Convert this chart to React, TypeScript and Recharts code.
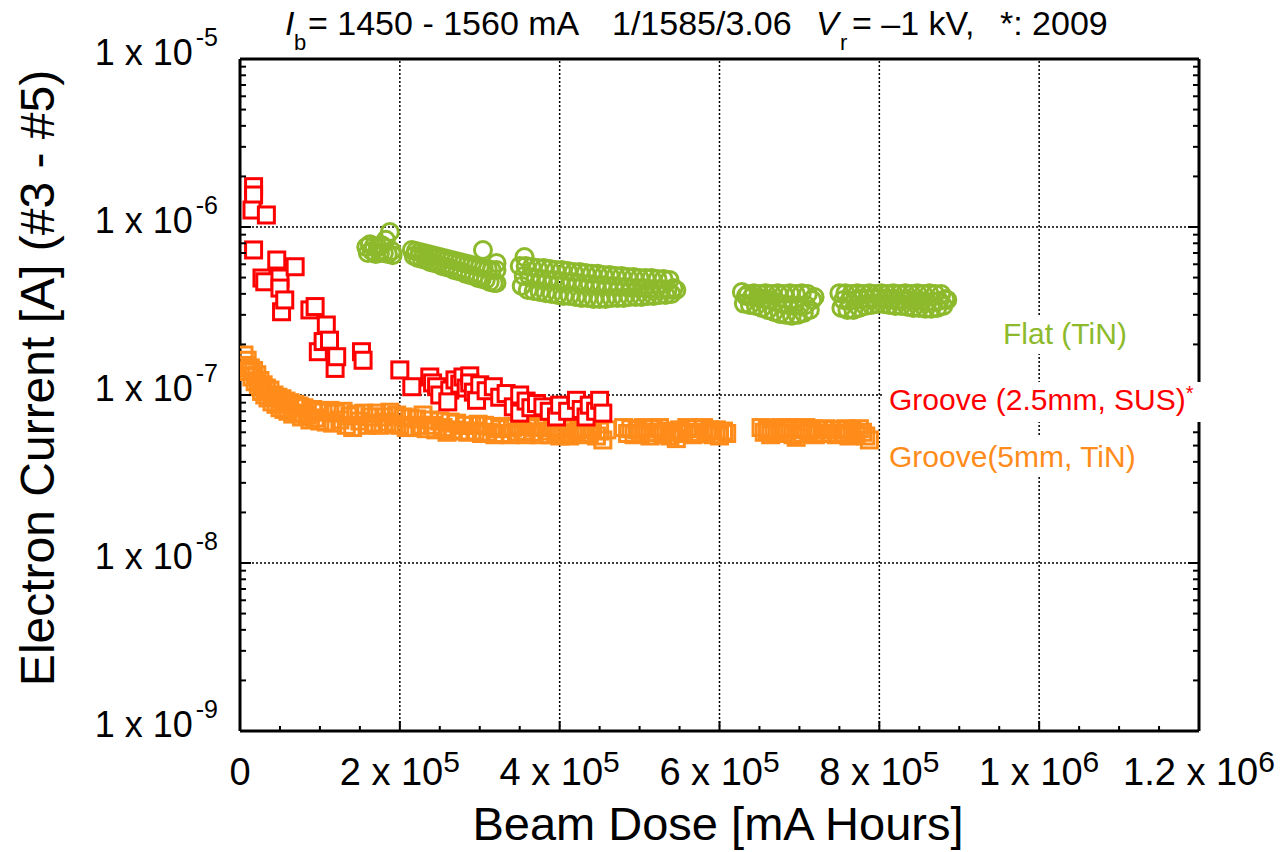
import React from 'react';
import { ScatterChart, Scatter, XAxis, YAxis, ReferenceLine } from 'recharts';

const FONT = '"Liberation Sans", Arial, Helvetica, sans-serif';
const W = 1280;
const H = 852;

// values: x in thousands of mA·h, y in nA (1e-9 A)
const grooveSusPairs: [number, number][] = [
  [17, 1738], [17, 1550], [15, 1262], [33, 1179], [17, 730], [27.5, 497], [31, 472], [46, 636],
  [50, 497], [50, 433], [52, 313], [56, 368], [69, 580], [87.5, 321], [94, 336], [98, 181],
  [104, 208], [108, 261], [112, 212], [119, 144], [121, 169], [152, 181], [154, 161], [200, 141],
  [215, 112], [237.5, 128], [241, 118], [246, 112], [250, 100], [262.5, 107], [260, 91], [269, 123],
  [275, 116], [279, 128], [283, 110], [287.5, 130], [287.5, 118], [292, 104], [296, 93], [300, 115],
  [308, 106], [317, 112], [325, 97], [333, 102], [342, 85], [350, 100], [350, 78], [358, 92],
  [364, 84], [371, 89], [379, 85], [387, 80], [396, 74], [400, 87], [410, 80], [421, 93],
  [427, 82], [433, 74], [437, 87], [445, 80], [450, 93], [454, 78],
];

const grooveTinPairs: [number, number][] = [
  [5, 173], [7, 150], [9, 161], [11, 138], [13, 145], [15, 128], [17, 140], [19, 120],
  [21, 132], [23, 112], [25, 122], [27, 105], [29, 115], [31, 100], [33, 110], [35, 96],
  [37.5, 107], [40, 91], [42.5, 100], [45, 88], [47.5, 97], [50, 84], [52.5, 95], [55, 82],
  [57.5, 92], [60, 80], [62.5, 90], [66, 77], [68.5, 88], [71, 78], [74, 86], [77, 74],
  [80, 84], [84, 76], [87.5, 71], [91, 82], [94, 73], [97, 80], [100, 70], [104, 79],
  [108, 69], [112.5, 81], [116, 68], [120, 78], [125, 71], [129, 80], [133, 66], [137.5, 75],
  [141, 64], [145, 77], [150, 70], [155, 78], [159, 66], [162.5, 74], [167, 68], [171, 78],
  [175, 66], [180, 74], [184, 69], [187.5, 79], [192, 67], [196, 76], [200, 66], [204, 74],
  [208, 64], [212.5, 73], [216, 64], [221, 72], [225, 66], [229, 76], [233, 63], [237, 71],
  [241, 66], [245, 62], [250, 70], [254, 64], [259, 60], [263, 69], [267, 62], [271, 68],
  [276, 61], [281, 66], [285, 60], [290, 66], [294, 61], [298, 67], [302, 59], [306, 66],
  [310, 60], [315, 65], [319, 58], [325, 63], [329, 59], [334, 65], [338, 58], [341, 64],
  [346, 60], [350, 66], [354, 61], [358, 58], [362.5, 65], [367, 60], [371, 64], [375, 58],
  [379, 65], [384, 61], [388, 58], [392, 64], [396, 60], [400, 57], [404, 63], [408, 59],
  [412.5, 57], [417, 63], [421, 60], [425, 62], [429, 58], [433, 64], [437, 59], [441, 63],
  [446, 57], [450, 61], [454, 54], [459, 62],
  [480, 64], [485, 59], [489, 63], [493, 58], [497, 62], [501, 59], [505, 64], [509, 60],
  [513, 57], [517, 63], [521, 60], [525, 64], [529, 58], [533, 61], [538, 57], [542, 60],
  [546, 55], [550, 62], [554, 59], [559, 64], [563, 60], [567, 58], [571, 63], [575, 59],
  [580, 64], [584, 60], [588, 62], [592, 58], [596, 62], [600, 57], [605, 61], [609, 59],
  [652, 64], [656, 60], [660, 62], [664, 58], [668, 63], [672, 60], [676, 64], [680, 59],
  [684, 62], [688, 64], [692, 58], [696, 56], [700, 62], [704, 59], [708, 64], [712, 60],
  [716, 63], [720, 58], [724, 62], [729, 59], [733, 63], [737, 59], [741, 62], [746, 58],
  [750, 62], [754, 59], [758, 63], [762, 57], [766, 61], [771, 59], [775, 63], [779, 60],
  [783, 57], [787.5, 54],
];

const flatTinPairs: [number, number][] = [
  // first group
  [158, 760], [160, 700], [162.5, 790], [165, 720], [167.5, 770], [170, 690], [172.5, 760], [175, 700],
  [177.5, 780], [180, 700], [182.5, 840], [185, 690], [187.5, 934], [190, 720], [191, 680],
  // second group
  [215, 730], [217.5, 672], [220, 720], [222.5, 654], [225, 710], [227.5, 645], [230, 700], [232.5, 636],
  [235, 690], [237.5, 619], [240, 681], [242.5, 610], [245, 672], [247.5, 602], [250, 663], [252.5, 586],
  [255, 654], [257.5, 578], [260, 645], [262.5, 570], [265, 636], [267.5, 555], [270, 627], [272.5, 548],
  [275, 619], [277.5, 540], [280, 610], [282.5, 526], [285, 602], [287.5, 518], [290, 594], [292.5, 511],
  [295, 586], [297.5, 497], [300, 578], [302.5, 490], [304, 730], [305, 570], [307.5, 484], [310, 562],
  [312.5, 471], [315, 555], [317.5, 464], [321, 610], [321, 555], [321, 464],
  // third group
  [350, 586], [352.5, 446], [355, 511], [356, 663], [357.5, 586], [360, 422], [362.5, 504], [365, 578],
  [367.5, 416], [370, 497], [372.5, 570], [375, 410], [377.5, 490], [380, 570], [382.5, 404], [385, 484],
  [387.5, 562], [390, 399], [392.5, 484], [395, 555], [397.5, 394], [400, 477], [402.5, 555], [405, 388],
  [407.5, 471], [410, 548], [412.5, 388], [415, 471], [417.5, 540], [420, 383], [422.5, 464], [425, 540],
  [427.5, 378], [430, 458], [432.5, 533], [435, 378], [437.5, 458], [440, 526], [442.5, 373], [445, 452],
  [447.5, 526], [450, 373], [452.5, 452], [455, 518], [457.5, 373], [460, 446], [462.5, 518], [465, 378],
  [467.5, 446], [470, 511], [472.5, 378], [475, 439], [477.5, 511], [480, 378], [482.5, 439], [485, 504],
  [487.5, 383], [490, 433], [492.5, 504], [495, 383], [497.5, 433], [500, 497], [502.5, 383], [505, 433],
  [507.5, 497], [510, 388], [512.5, 427], [515, 497], [517.5, 388], [520, 427], [522.5, 490], [525, 394],
  [527.5, 427], [530, 490], [532.5, 394], [535, 422], [537.5, 484], [540, 399], [542.5, 433], [546, 422],
  // fourth group
  [628, 410], [630.5, 350], [633, 388], [635.5, 399], [638, 343], [640.5, 383], [643, 404], [645.5, 339],
  [648, 378], [650.5, 399], [653, 330], [655.5, 373], [658, 404], [660.5, 321], [663, 368], [665.5, 399],
  [668, 312], [670.5, 358], [673, 404], [675.5, 304], [678, 348], [680.5, 399], [683, 300], [685.5, 343],
  [688, 404], [690.5, 296], [693, 339], [695.5, 399], [698, 300], [700.5, 339], [703, 404], [705.5, 308],
  [708, 343], [710.5, 399], [713, 321], [716, 368], [719, 383],
  // fifth group
  [750, 404], [752.5, 330], [755, 368], [757.5, 404], [760, 321], [762.5, 363], [765, 399], [767.5, 321],
  [770, 368], [772.5, 404], [775, 330], [777.5, 373], [780, 399], [782.5, 339], [785, 373], [787.5, 404],
  [790, 343], [792.5, 378], [795, 399], [797.5, 348], [800, 378], [802.5, 404], [805, 348], [807.5, 373],
  [810, 399], [812.5, 343], [815, 373], [817.5, 404], [820, 339], [822.5, 368], [825, 399], [827.5, 339],
  [830, 368], [832.5, 404], [835, 335], [837.5, 368], [840, 399], [842.5, 330], [845, 363], [847.5, 404],
  [850, 330], [852.5, 363], [855, 399], [857.5, 326], [860, 358], [862.5, 404], [865, 326], [867.5, 358],
  [870, 399], [872.5, 330], [875, 363], [877.5, 399], [880, 339], [882.5, 373], [885, 368],
];

const toPoints = (arr: [number, number][]) => arr.map(([k, n]) => ({ x: k * 1e3, y: n * 1e-9 }));
const grooveSus = toPoints(grooveSusPairs);
const grooveTin = toPoints(grooveTinPairs);
const flatTin = toPoints(flatTinPairs);

// axis ticks
const xMajor = [0, 200000, 400000, 600000, 800000, 1000000, 1200000];
const xMantissa = ['0', '2 x 10', '4 x 10', '6 x 10', '8 x 10', '1 x 10', '1.2 x 10'];
const xExponent = ['', '5', '5', '5', '5', '6', '6'];
const xAllTicks = Array.from({ length: 25 }, (_, i) => i * 50000);
const xGrid = [200000, 400000, 600000, 800000, 1000000];

const yMajor = [1e-9, 1e-8, 1e-7, 1e-6, 1e-5];
const yExponent = ['-9', '-8', '-7', '-6', '-5'];
const yDecades = [1e-9, 1e-8, 1e-7, 1e-6];
const yMinorFactors = [1, 2, 3, 4, 5, 6, 7, 8, 9];
const yAllTicks = [...yDecades.flatMap((d) => yMinorFactors.map((k) => k * d)), 1e-5];
const yGrid = [1e-8, 1e-7, 1e-6];

const GREEN = '#8DBA2C';
const RED = '#FF0000';
const ORANGE = '#FF8C1A';

const xIndex = (v: number) => xMajor.findIndex((m) => Math.abs(m - v) < 1);
const yIndex = (v: number) => yMajor.findIndex((m) => Math.abs(v / m - 1) < 1e-6);

function BottomTick(props: any) {
  const { x, y, payload } = props;
  const i = xIndex(payload.value);
  const major = i >= 0;
  return (
    <g>
      <line x1={x} x2={x} y1={y} y2={y - (major ? 10 : 5)} stroke="#000" strokeWidth={2} />
      {major && (
        <text x={x} y={y + 54} textAnchor="middle" fontSize={38} fontFamily={FONT} fill="#000">
          {xMantissa[i]}
          {xExponent[i] && (
            <tspan dy={-13} fontSize={30}>
              {xExponent[i]}
            </tspan>
          )}
        </text>
      )}
    </g>
  );
}

function TopTick(props: any) {
  const { x, y, payload } = props;
  const major = xIndex(payload.value) >= 0;
  return <line x1={x} x2={x} y1={y} y2={y + (major ? 10 : 5)} stroke="#000" strokeWidth={2} />;
}

function LeftTick(props: any) {
  const { x, y, payload } = props;
  const i = yIndex(payload.value);
  const major = i >= 0;
  return (
    <g>
      <line x1={x} x2={x + (major ? 11 : 6)} y1={y} y2={y} stroke="#000" strokeWidth={2} />
      {major && (
        <text x={x - 22} y={y + 6} textAnchor="end" fontSize={36} fontFamily={FONT} fill="#000">
          1 x 10
          <tspan dx={3} dy={-19} fontSize={25}>
            {yExponent[i]}
          </tspan>
        </text>
      )}
    </g>
  );
}

function RightTick(props: any) {
  const { x, y, payload } = props;
  const major = yIndex(payload.value) >= 0;
  return <line x1={x} x2={x - (major ? 11 : 6)} y1={y} y2={y} stroke="#000" strokeWidth={2} />;
}

const squareShape = (color: string, fill: string) => (props: any) => {
  const { cx, cy } = props;
  if (cx == null || cy == null) return <g />;
  return <rect x={cx - 8} y={cy - 8} width={16} height={16} fill={fill} stroke={color} strokeWidth={3} />;
};

const circleShape = (color: string, fill: string) => (props: any) => {
  const { cx, cy } = props;
  if (cx == null || cy == null) return <g />;
  return <circle cx={cx} cy={cy} r={8.5} fill={fill} stroke={color} strokeWidth={3} />;
};

const axisLine = { stroke: '#000', strokeWidth: 3 };

export default function App() {
  return (
    <div style={{ position: 'absolute', left: 0, top: 0, width: W, height: H, background: '#fff' }}>
      <ScatterChart width={W} height={H} margin={{ top: 49, right: 71, bottom: 41, left: 100 }}>
        <XAxis
          xAxisId={0}
          type="number"
          dataKey="x"
          orientation="bottom"
          domain={[0, 1200000]}
          allowDataOverflow
          ticks={xAllTicks}
          interval={0}
          tick={BottomTick}
          tickLine={false}
          tickSize={0}
          tickMargin={0}
          axisLine={axisLine}
          height={80}
        />
        <XAxis
          xAxisId="top"
          type="number"
          orientation="top"
          domain={[0, 1200000]}
          allowDataOverflow
          ticks={xAllTicks}
          interval={0}
          tick={TopTick}
          tickLine={false}
          tickSize={0}
          tickMargin={0}
          axisLine={axisLine}
          height={10}
        />
        <YAxis
          yAxisId={0}
          type="number"
          dataKey="y"
          scale="log"
          domain={[1e-9, 1e-5]}
          allowDataOverflow
          ticks={yAllTicks}
          interval={0}
          tick={LeftTick}
          tickLine={false}
          tickSize={0}
          tickMargin={0}
          axisLine={axisLine}
          width={140}
        />
        <YAxis
          yAxisId="right"
          type="number"
          orientation="right"
          scale="log"
          domain={[1e-9, 1e-5]}
          allowDataOverflow
          ticks={yAllTicks}
          interval={0}
          tick={RightTick}
          tickLine={false}
          tickSize={0}
          tickMargin={0}
          axisLine={axisLine}
          width={10}
        />
        {xGrid.map((v) => (
          <ReferenceLine key={'gx' + v} x={v} stroke="#000" strokeWidth={1.5} strokeDasharray="2 2" />
        ))}
        {yGrid.map((v) => (
          <ReferenceLine key={'gy' + v} y={v} stroke="#000" strokeWidth={1.5} strokeDasharray="2 2" />
        ))}
        <Scatter data={grooveTin} shape={squareShape(ORANGE, 'none')} isAnimationActive={false} />
        <Scatter data={grooveSus} shape={squareShape(RED, '#fff')} isAnimationActive={false} />
        <Scatter data={flatTin} shape={circleShape(GREEN, 'none')} isAnimationActive={false} />
      </ScatterChart>
      <svg
        width={W}
        height={H}
        style={{ position: 'absolute', left: 0, top: 0, pointerEvents: 'none' }}
      >
        <text fontFamily={FONT} fontSize={34} fill="#000">
          <tspan x={285} y={35} fontStyle="italic">I</tspan>
          <tspan x={294} y={50} fontSize={22}>b</tspan>
          <tspan x={308} y={35}>= 1450 - 1560 mA</tspan>
          <tspan x={612} y={35}>1/1585/3.06</tspan>
          <tspan x={816} y={35} fontStyle="italic">V</tspan>
          <tspan x={840} y={50} fontSize={22}>r</tspan>
          <tspan x={852} y={35}>= –1 kV,</tspan>
          <tspan x={1000} y={35}>*: 2009</tspan>
        </text>
        <text
          transform="translate(54,378) rotate(-90)"
          textAnchor="middle"
          fontFamily={FONT}
          fontSize={48}
          fill="#000"
        >
          Electron Current [A] (#3 - #5)
        </text>
        <text x={718} y={840} textAnchor="middle" fontFamily={FONT} fontSize={47} fill="#000">
          Beam Dose [mA Hours]
        </text>
        <rect x={995} y={316} width={140} height={38} fill="#fff" />
        <text x={1003} y={344} fontFamily={FONT} fontSize={30} fill={GREEN}>
          Flat (TiN)
        </text>
        <rect x={884} y={382} width={318} height={40} fill="#fff" />
        <text x={889} y={410} fontFamily={FONT} fontSize={30} fill={RED}>
          Groove (2.5mm, SUS)
          <tspan dy={-10} fontSize={20}>*</tspan>
        </text>
        <rect x={884} y={437} width={256} height={40} fill="#fff" />
        <text x={889} y={467} fontFamily={FONT} fontSize={30} fill={ORANGE}>
          Groove(5mm, TiN)
        </text>
      </svg>
    </div>
  );
}
